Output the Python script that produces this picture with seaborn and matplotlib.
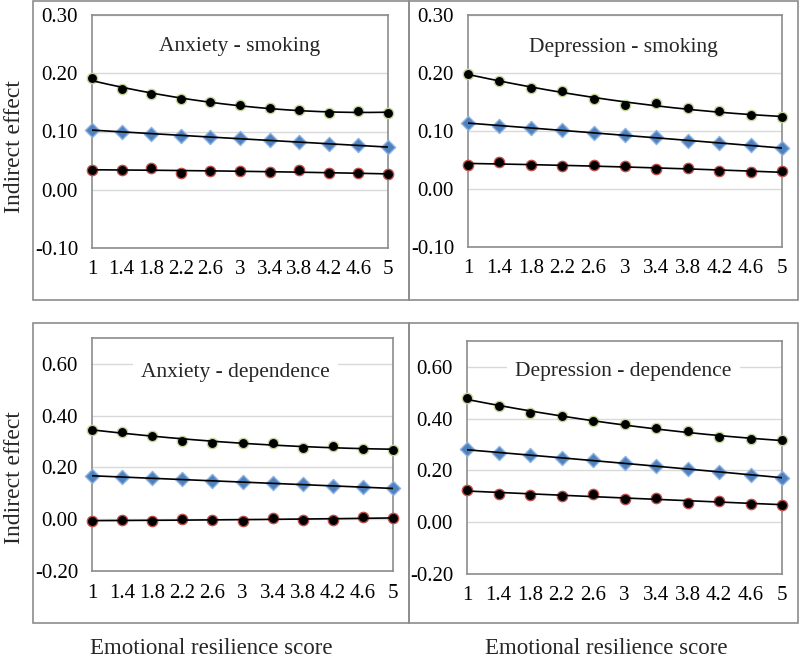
import numpy as np
import pandas as pd
import matplotlib
matplotlib.use('Agg')
import matplotlib.pyplot as plt
from matplotlib.patches import Rectangle
import seaborn as sns

SCORES = [1, 1.4, 1.8, 2.2, 2.6, 3, 3.4, 3.8, 4.2, 4.6, 5]
SCORE_LABELS = ['1', '1.4', '1.8', '2.2', '2.6', '3', '3.4', '3.8', '4.2', '4.6', '5']

# anxiety - smoking
anx_smk_high = [0.191, 0.173, 0.164, 0.156, 0.151, 0.146, 0.140, 0.137, 0.131, 0.136, 0.131]
anx_smk_mid = [0.103, 0.099, 0.096, 0.093, 0.090, 0.088, 0.085, 0.082, 0.079, 0.076, 0.073]
anx_smk_low = [0.034, 0.034, 0.037, 0.029, 0.032, 0.032, 0.030, 0.034, 0.028, 0.028, 0.027]

# depression - smoking
dep_smk_high = [0.199, 0.186, 0.174, 0.169, 0.155, 0.145, 0.149, 0.139, 0.134, 0.127, 0.124]
dep_smk_mid = [0.114, 0.109, 0.105, 0.101, 0.097, 0.093, 0.089, 0.083, 0.079, 0.075, 0.071]
dep_smk_low = [0.042, 0.046, 0.042, 0.039, 0.041, 0.040, 0.034, 0.036, 0.031, 0.029, 0.031]

# anxiety - dependence
anx_dep_high = [0.346, 0.335, 0.322, 0.304, 0.296, 0.295, 0.296, 0.274, 0.283, 0.271, 0.268]
anx_dep_mid = [0.168, 0.163, 0.158, 0.154, 0.147, 0.144, 0.138, 0.135, 0.129, 0.123, 0.119]
anx_dep_low = [-0.006, -0.004, -0.006, -0.001, -0.003, -0.005, 0.006, -0.003, -0.003, 0.010, 0.003]

# depression - dependence
dep_dep_high = [0.481, 0.447, 0.422, 0.412, 0.391, 0.378, 0.364, 0.351, 0.330, 0.323, 0.316]
dep_dep_mid = [0.281, 0.268, 0.259, 0.249, 0.239, 0.227, 0.217, 0.205, 0.195, 0.183, 0.172]
dep_dep_low = [0.126, 0.108, 0.107, 0.103, 0.108, 0.090, 0.092, 0.076, 0.083, 0.071, 0.068]

PANEL_TITLES = ['Anxiety - smoking', 'Depression - smoking',
                'Anxiety - dependence', 'Depression - dependence']
SMOKING_TICKS = [-0.10, 0.00, 0.10, 0.20, 0.30]
DEPENDENCE_TICKS = [-0.20, 0.00, 0.20, 0.40, 0.60]

SERIF = ['Liberation Serif', 'DejaVu Serif']
GRAY = '#8c8c8c'

sns.set_style('white')
plt.rcParams['font.family'] = SERIF

fig = plt.figure(figsize=(8.0, 6.62), dpi=100)
W, H = 800, 662


def px_axes(x0, y0, x1, y1):
    return fig.add_axes([x0 / W, 1 - y1 / H, (x1 - x0) / W, (y1 - y0) / H])


def frame(x0, y0, x1, y1):
    fig.patches.append(Rectangle((x0 / W, 1 - y1 / H), (x1 - x0) / W, (y1 - y0) / H,
                                 transform=fig.transFigure, fill=False,
                                 edgecolor=GRAY, linewidth=1.2, zorder=0))


frame(33, 1, 409, 300)
frame(409, 1, 798, 300)
frame(33, 323, 409, 623)
frame(409, 323, 798, 623)

panels = [
    (px_axes(92, 15, 388, 248), PANEL_TITLES[0], (anx_smk_high, anx_smk_mid, anx_smk_low),
     SMOKING_TICKS, (-0.10, 0.30), (0.497, 0.863)),
    (px_axes(468, 15, 782, 247), PANEL_TITLES[1], (dep_smk_high, dep_smk_mid, dep_smk_low),
     SMOKING_TICKS, (-0.10, 0.30), (0.494, 0.86)),
    (px_axes(92, 338, 393, 571), PANEL_TITLES[2], (anx_dep_high, anx_dep_mid, anx_dep_low),
     DEPENDENCE_TICKS, (-0.20, 0.70), (0.477, 0.854)),
    (px_axes(467, 341, 782, 574), PANEL_TITLES[3], (dep_dep_high, dep_dep_mid, dep_dep_low),
     DEPENDENCE_TICKS, (-0.20, 0.70), (0.497, 0.867)),
]

styles = [
    dict(marker='o', color='black', edgecolor='#c4d79b', s=55),
    dict(marker='D', color='#4f81bd', edgecolor='#8db3e2', s=52),
    dict(marker='o', color='black', edgecolor='#c0504d', s=55),
]

x = np.array(SCORES)
xfine = np.linspace(1, 5, 200)

for ax, title, series, yticks, ylim, tpos in panels:
    for vals, st in zip(series, styles):
        df = pd.DataFrame({'score': SCORES, 'effect': vals})
        sns.scatterplot(data=df, x='score', y='effect', ax=ax, marker=st['marker'],
                        color=st['color'], edgecolor=st['edgecolor'], linewidth=1.0,
                        s=st['s'], zorder=3, clip_on=False)
        # polynomial trendline (order 2), like the Excel trendline
        coef = np.polyfit(x, np.array(vals), 2)
        trend = pd.DataFrame({'score': xfine, 'effect': np.polyval(coef, xfine)})
        sns.lineplot(data=trend, x='score', y='effect', ax=ax, color='black',
                     linewidth=1.2, zorder=4)

    ax.set_xlim(1, 5)
    ax.set_ylim(*ylim)
    ax.set_xticks(SCORES)
    ax.set_xticklabels(SCORE_LABELS)
    ax.set_yticks(yticks)
    ax.set_yticklabels([f'{v:.2f}' for v in yticks])
    ax.tick_params(axis='both', length=0, labelsize=15, colors='black')
    ax.tick_params(axis='y', pad=10)
    ax.tick_params(axis='x', pad=9)
    ax.set_xlabel('')
    ax.set_ylabel('')
    ax.grid(axis='y', color='#d9d9d9', linewidth=1.0)
    ax.set_axisbelow(True)
    for sp in ax.spines.values():
        sp.set_visible(True)
        sp.set_color(GRAY)
        sp.set_linewidth(1.2)
    ax.text(tpos[0], tpos[1], title, transform=ax.transAxes, ha='center', va='center',
            fontsize=15.5, zorder=5,
            bbox=dict(facecolor='white', edgecolor='none', pad=6))

fig.text(15 / W, 1 - 147 / H, 'Indirect effect', rotation=90, ha='center', va='center',
         fontsize=17)
fig.text(15 / W, 1 - 478 / H, 'Indirect effect', rotation=90, ha='center', va='center',
         fontsize=17)
fig.text(211 / W, 1 - 648 / H, 'Emotional resilience score', ha='center', va='center',
         fontsize=16.5)
fig.text(606 / W, 1 - 648 / H, 'Emotional resilience score', ha='center', va='center',
         fontsize=16.5)

fig.savefig('out.png', dpi=100, facecolor='white')
plt.close(fig)
